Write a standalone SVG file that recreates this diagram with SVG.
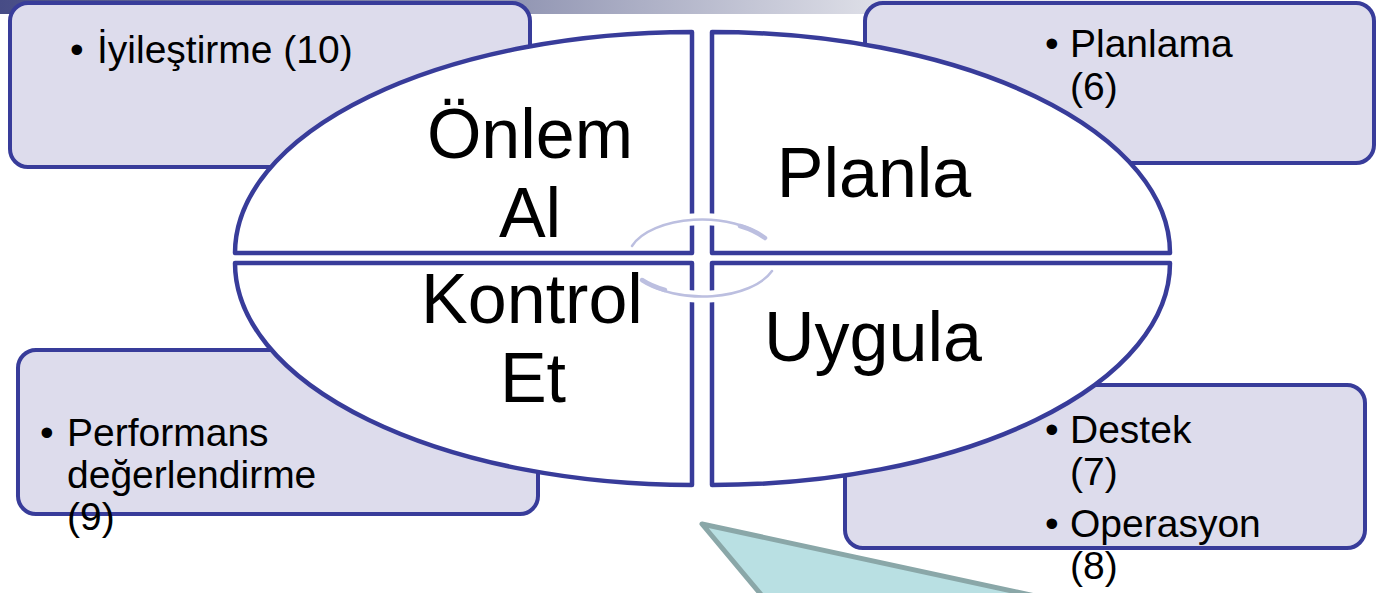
<svg xmlns="http://www.w3.org/2000/svg" width="1376" height="593" viewBox="0 0 1376 593">
<defs>
<linearGradient id="bar" x1="0" y1="0" x2="1376" y2="0" gradientUnits="userSpaceOnUse">
<stop offset="0" stop-color="#474c86"/>
<stop offset="0.38" stop-color="#9397b4"/>
<stop offset="0.64" stop-color="#dfe0e8"/>
<stop offset="1" stop-color="#ffffff"/>
</linearGradient>
<style>
.box{fill:#dddcec;stroke:#383c9a;stroke-width:4}
.q{fill:#ffffff;stroke:#383c9a;stroke-width:4.5;stroke-linejoin:round}
.bt{font-family:"Liberation Sans",Arial,sans-serif;font-size:39px;fill:#000}
.big{font-family:"Liberation Sans",Arial,sans-serif;font-size:70px;fill:#000;text-anchor:middle}
.halo{fill:none;stroke:#ffffff;stroke-width:12}
.arr{fill:none;stroke:#bcbfe0;stroke-width:2.5;stroke-linecap:round}
.arrw{fill:none;stroke:#bcbfe0;stroke-width:4.5;stroke-linecap:round}
</style>
</defs>
<rect width="1376" height="593" fill="#ffffff"/>
<rect x="0" y="0" width="1376" height="14" fill="url(#bar)"/>

<g id="teal">
<polygon points="702,524 1100,610 784,622" fill="#b9e0e3" stroke="#8aa7a8" stroke-width="5" stroke-linejoin="round"/>
</g>

<g id="box-iyilestirme">
<rect class="box" x="10" y="3" width="520" height="164" rx="18"/>
<text class="bt" x="70" y="63">•</text>
<text class="bt" x="97" y="63">İyileştirme (10)</text>
</g>
<g id="box-planlama">
<rect class="box" x="865" y="3" width="509" height="160" rx="18"/>
<text class="bt" x="1045" y="57">•</text>
<text class="bt" x="1070" y="57">Planlama</text>
<text class="bt" x="1070" y="100">(6)</text>
</g>
<g id="box-performans">
<rect class="box" x="18" y="350" width="520" height="164" rx="18"/>
<text class="bt" x="40" y="446">•</text>
<text class="bt" x="67" y="446">Performans</text>
<text class="bt" x="67" y="488">değerlendirme</text>
<text class="bt" x="67" y="530">(9)</text>
</g>
<g id="box-destek">
<rect class="box" x="845" y="385" width="520" height="163" rx="18"/>
<text class="bt" x="1045" y="443">•</text>
<text class="bt" x="1070" y="443">Destek</text>
<text class="bt" x="1070" y="485">(7)</text>
<text class="bt" x="1045" y="537">•</text>
<text class="bt" x="1070" y="537">Operasyon</text>
<text class="bt" x="1070" y="579">(8)</text>
</g>

<g id="q-onlem">
<path class="q" d="M692 253 L235 253 A457 221 0 0 1 692 32 Z"/>
<text class="big" x="530" y="158">Önlem</text>
<text class="big" x="530" y="237">Al</text>
</g>
<g id="q-planla">
<path class="q" d="M712 253 L712 32 A458 221 0 0 1 1170 253 Z"/>
<text class="big" x="874" y="197">Planla</text>
</g>
<g id="q-kontrol">
<path class="q" d="M692 263 L692 485 A457 222 0 0 1 235 263 Z"/>
<text class="big" x="532" y="323">Kontrol</text>
<text class="big" x="533" y="402">Et</text>
</g>
<g id="q-uygula">
<path class="q" d="M712 263 L1170 263 A458 222 0 0 1 712 485 Z"/>
<text class="big" x="873" y="361">Uygula</text>
</g>

<g id="connectors">
<path class="halo" d="M675 222 A74 39 0 0 1 730 222"/>
<path class="halo" d="M730 294 A74 39 0 0 1 675 294"/>
<path class="arr" d="M632 246 A74 39 0 0 1 765 238"/>
<path class="arrw" d="M740 226 A74 39 0 0 1 765 238"/>
<path class="arr" d="M772 271 A74 39 0 0 1 642 280"/>
<path class="arrw" d="M665 290 A74 39 0 0 1 642 280"/>
</g>
</svg>
